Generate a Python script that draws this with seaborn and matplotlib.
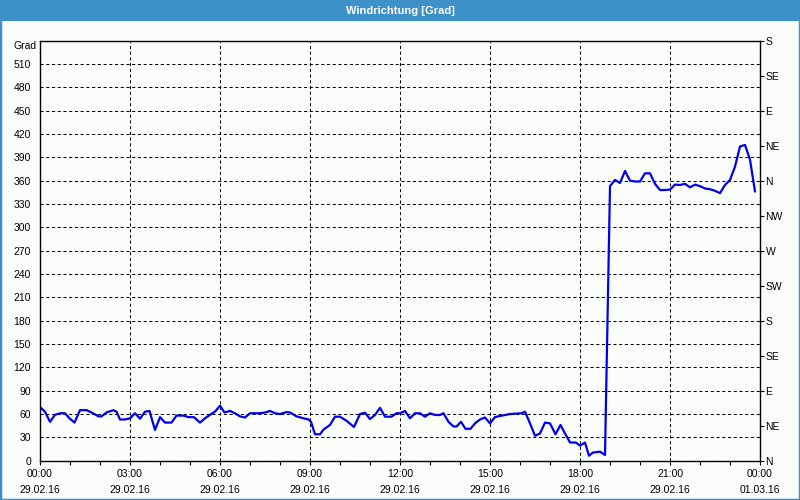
import numpy as np
import pandas as pd
import matplotlib
matplotlib.use("Agg")
import matplotlib.pyplot as plt
import matplotlib.transforms as mtransforms
from matplotlib.patches import Rectangle
import seaborn as sns

# ---- data (minutes after 29.02.16 00:00, wind direction in degrees) ----
minutes = [0, 10, 20, 30, 40, 50, 59, 69, 80, 93, 103, 117, 123, 133, 147, 153,
           160, 170, 180, 190, 200, 210, 219, 230, 240, 250, 263, 273, 287, 297,
           308, 320, 330, 340, 350, 360, 369, 380, 390, 400, 410, 420, 440, 450,
           460, 470, 480, 493, 500, 513, 527, 537, 542, 550, 560, 567, 580, 590,
           600, 613, 628, 640, 650, 660, 670, 680, 690, 703, 713, 720, 730, 740,
           750, 760, 770, 780, 790, 800, 807, 817, 827, 833, 842, 851, 861, 870,
           880, 890, 900, 910, 920, 940, 963, 970, 980, 990, 1000, 1010, 1020,
           1031, 1041, 1050, 1060, 1072, 1080, 1090, 1098, 1106, 1120, 1130,
           1132, 1140, 1150, 1160, 1170, 1180, 1190, 1200, 1210, 1220, 1230,
           1240, 1250, 1260, 1270, 1280, 1290, 1300, 1310, 1320, 1330, 1340,
           1350, 1360, 1370, 1380, 1390, 1400, 1410, 1420, 1430]
direction = [69, 63, 50, 59, 61, 61, 54.5, 49, 65, 65, 62, 57, 57, 62, 65, 63,
             53, 53, 54.5, 61, 54, 63, 64, 39.5, 56, 49, 49, 58, 58, 56,
             56, 49, 54.5, 59, 63, 70.7, 62, 64, 61, 57, 55.5, 61, 61, 62,
             64, 61, 60, 62.5, 62, 57, 54.5, 53, 50, 34, 34, 40, 46, 56.6,
             56.6, 51.4, 43.3, 60, 61.7, 53.6, 58.8, 68, 56.6, 56.6, 61, 61, 64, 54.5,
             61, 61, 56.6, 61, 58.8, 58.8, 61, 50, 44, 44, 50, 41, 41, 48,
             53, 55.5, 48, 56, 57.5, 60, 61, 63, 48, 32, 35, 49, 48,
             34, 46, 35, 23.5, 23.3, 19.3, 23.3, 6.4, 10.5, 11.6, 7.3,
             75, 353, 361, 357, 372.5, 360, 359, 359, 369.5, 369.5, 356,
             348, 348, 348.6, 355, 354.5, 356, 351.5, 355, 353, 350, 349,
             347, 344, 354.5, 361, 378, 404, 406, 387, 346]

grad_ticks = list(range(0, 511, 30))
compass_ticks = list(range(0, 541, 45))
compass_labels = ["N", "NE", "E", "SE", "S", "SW", "W", "NW",
                  "N", "NE", "E", "SE", "S"]
x_tick_hours = list(range(0, 25, 3))
title = "Windrichtung [Grad]"
y_unit = "Grad"

# ---- style ----
sns.set_theme(style="white")
plt.rcParams['font.family'] = ['Liberation Sans', 'DejaVu Sans']
plt.rcParams['text.color'] = 'black'
plt.rcParams['xtick.color'] = 'black'
plt.rcParams['ytick.color'] = 'black'
plt.rcParams['xtick.labelcolor'] = 'black'
plt.rcParams['ytick.labelcolor'] = 'black'
FS = 7.5
BLUE_BAR = "#3d90c8"
BG = "#fbfdfb"

start = pd.Timestamp("2016-02-29 00:00")
df = pd.DataFrame({"Zeit": start + pd.to_timedelta(minutes, unit="min"),
                   "Grad": direction})

fig = plt.figure(figsize=(8, 5), dpi=100, facecolor=BG)
ax = fig.add_axes([0.05, 0.0786, 0.9, 0.84])
ax.set_facecolor(BG)

sns.lineplot(data=df, x="Zeit", y="Grad", ax=ax, color="#0000ee",
             linewidth=1.6, legend=False)

ax.set_xlim(start, start + pd.Timedelta(hours=24))
ax.set_ylim(0, 540)
ax.set_xlabel("")
ax.set_ylabel("")

# x ticks
xt = [start + pd.Timedelta(hours=h) for h in x_tick_hours]
xl = [t.strftime("%H:%M") + "\n" + t.strftime("%d.%m.%y") for t in xt]
ax.set_xticks(xt)
labs = ax.set_xticklabels(xl, fontsize=FS, color='black')
for l in labs:
    l.set_linespacing(1.75)
ax.set_xticks([start + pd.Timedelta(hours=h) for h in range(25)], minor=True)
ax.tick_params(axis='x', which='both', direction='out', length=3, width=0.8,
               color='black', pad=3, bottom=True)

# y ticks (left)
ax.set_yticks(grad_ticks)
ax.set_yticklabels([str(v) for v in grad_ticks], fontsize=FS, color='black')
ax.tick_params(axis='y', length=0, pad=6.5, left=True)

ax.grid(True, which='major', color='black', linewidth=0.75,
        linestyle=(0, (3, 2.5)))

for s in ax.spines.values():
    s.set_color('black')
    s.set_linewidth(1.0)
    s.set_visible(True)

trans = mtransforms.blended_transform_factory(ax.transAxes, ax.transData)
ax.text(-0.005, 533, y_unit, transform=trans, ha='right', va='center',
        fontsize=FS, color='black')

# right compass axis
ax2 = ax.twinx()
ax2.set_ylim(0, 540)
ax2.set_yticks(compass_ticks)
ax2.set_yticklabels(compass_labels, fontsize=FS, color='black')
ax2.tick_params(axis='y', direction='out', length=3, width=0.8, pad=1,
                color='black', right=True)
ax2.grid(False)
for s in ax2.spines.values():
    s.set_visible(False)

# title bar and border
bar_h = 21 / 500
fig.patches.append(Rectangle((0, 1 - bar_h), 1, bar_h, transform=fig.transFigure,
                             facecolor=BLUE_BAR, edgecolor='none', zorder=0))
fig.text(0.5, 1 - bar_h / 2, title, ha='center', va='center', color='white',
         fontsize=8, fontweight='bold')
fig.patches.append(Rectangle((0, 0), 1, 1, transform=fig.transFigure,
                             fill=False, edgecolor=BLUE_BAR, linewidth=2.5))

fig.savefig("out.png", dpi=100, facecolor=BG)
